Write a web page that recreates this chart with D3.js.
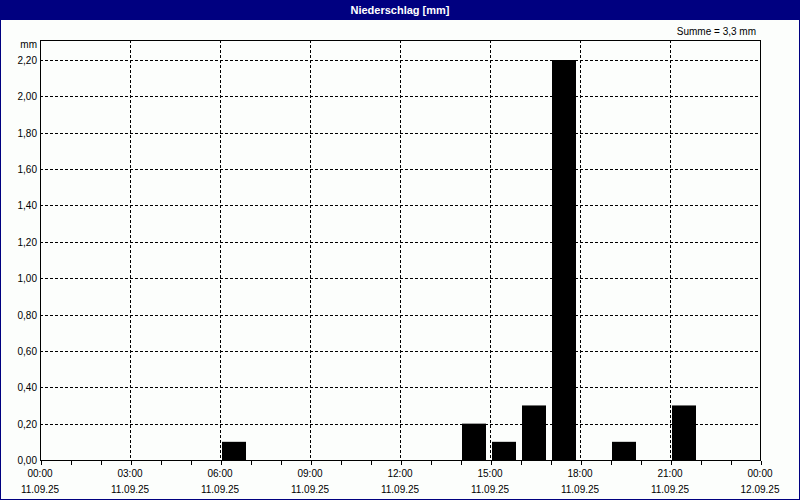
<!DOCTYPE html>
<html><head><meta charset="utf-8">
<script src="https://cdn.jsdelivr.net/npm/d3@7"></script>
<style>body{margin:0;background:#fff}svg{display:block}text{font-family:"Liberation Sans",Arial,sans-serif}</style>
</head><body><svg id="c" width="800" height="500"></svg>
<script>
const title = "Niederschlag [mm]";
const sumLabel = "Summe = 3,3 mm";
const unitLabel = "mm";
const hours = [6, 14, 15, 16, 17, 19, 21];
const values = [0.1, 0.2, 0.1, 0.3, 2.2, 0.1, 0.3];
const yTicks = [0, 0.2, 0.4, 0.6, 0.8, 1.0, 1.2, 1.4, 1.6, 1.8, 2.0, 2.2];
const xTickHours = [0, 3, 6, 9, 12, 15, 18, 21, 24];
const xTimeLabels = ["00:00","03:00","06:00","09:00","12:00","15:00","18:00","21:00","00:00"];
const xDateLabels = ["11.09.25","11.09.25","11.09.25","11.09.25","11.09.25","11.09.25","11.09.25","11.09.25","12.09.25"];

const svg = d3.select("#c");
const W = 800, H = 500;
const L = 40, R = 760, T = 40, B = 460;
const x = d3.scaleLinear().domain([0, 24]).range([L, R]);
const y = d3.scaleLinear().domain([0, 2.2]).range([B, 60]);

svg.append("rect").attr("x",0).attr("y",0).attr("width",W).attr("height",H).attr("fill","#fcfefc");
svg.append("rect").attr("x",0.5).attr("y",0.5).attr("width",W-1).attr("height",H-1).attr("fill","none").attr("stroke","#000080");
svg.append("rect").attr("x",0).attr("y",0).attr("width",W).attr("height",20).attr("fill","#000080");
svg.append("text").attr("x",W/2).attr("y",14).attr("text-anchor","middle").attr("fill","#fff")
  .attr("font-size","11px").attr("font-weight","bold").text(title);
svg.append("text").attr("x",756).attr("y",35).attr("text-anchor","end").attr("fill","#000")
  .attr("font-size","10px").text(sumLabel);

// gridlines
const g = svg.append("g");
g.selectAll(".hg").data(yTicks.filter(d=>d>0)).join("line")
  .attr("x1",L).attr("x2",R).attr("y1",d=>Math.round(y(d))+0.5).attr("y2",d=>Math.round(y(d))+0.5)
  .attr("stroke","#000").attr("stroke-dasharray","3,2").attr("shape-rendering","crispEdges");
g.selectAll(".vg").data(xTickHours.filter(d=>d>0&&d<24)).join("line")
  .attr("x1",d=>Math.round(x(d))+0.5).attr("x2",d=>Math.round(x(d))+0.5).attr("y1",T).attr("y2",B)
  .attr("stroke","#000").attr("stroke-dasharray","3,2").attr("shape-rendering","crispEdges");

// bars
svg.append("g").selectAll("rect").data(hours.map((h,i)=>({h, v: values[i]}))).join("rect")
  .attr("x", d=>x(d.h)+2).attr("width", x(1)-x(0)-6)
  .attr("y", d=>y(d.v)).attr("height", d=>y(0)-y(d.v)).attr("fill","#000");

// frame
svg.append("rect").attr("x",L+0.5).attr("y",T+0.5).attr("width",R-L).attr("height",B-T)
  .attr("fill","none").attr("stroke","#000").attr("shape-rendering","crispEdges");

// x axis minor ticks
const xa = d3.axisBottom(x).tickValues(d3.range(0,25)).tickSize(4).tickFormat("");
const xg = svg.append("g").attr("transform",`translate(0.5,${B+0.5})`).call(xa);
xg.select(".domain").remove();
xg.selectAll("line").attr("stroke","#000").attr("shape-rendering","crispEdges");

// x labels
const xl = svg.append("g");
xl.selectAll(".t").data(xTickHours).join("text").attr("x",d=>x(d)).attr("y",477)
  .attr("text-anchor","middle").attr("font-size","10px").attr("fill","#000").text((d,i)=>xTimeLabels[i]);
xl.selectAll(".d").data(xTickHours).join("text").attr("class","d").attr("x",d=>x(d)).attr("y",493)
  .attr("text-anchor","middle").attr("font-size","10px").attr("fill","#000").text((d,i)=>xDateLabels[i]);

// y labels
const fmt = d => d.toFixed(2).replace(".", ",");
svg.append("g").selectAll("text").data(yTicks).join("text")
  .attr("x",37).attr("y",d=>y(d)+4).attr("text-anchor","end").attr("font-size","10px").attr("fill","#000").text(fmt);
svg.append("text").attr("x",37).attr("y",48).attr("text-anchor","end").attr("font-size","10px").attr("fill","#000").text(unitLabel);
</script></body></html>
